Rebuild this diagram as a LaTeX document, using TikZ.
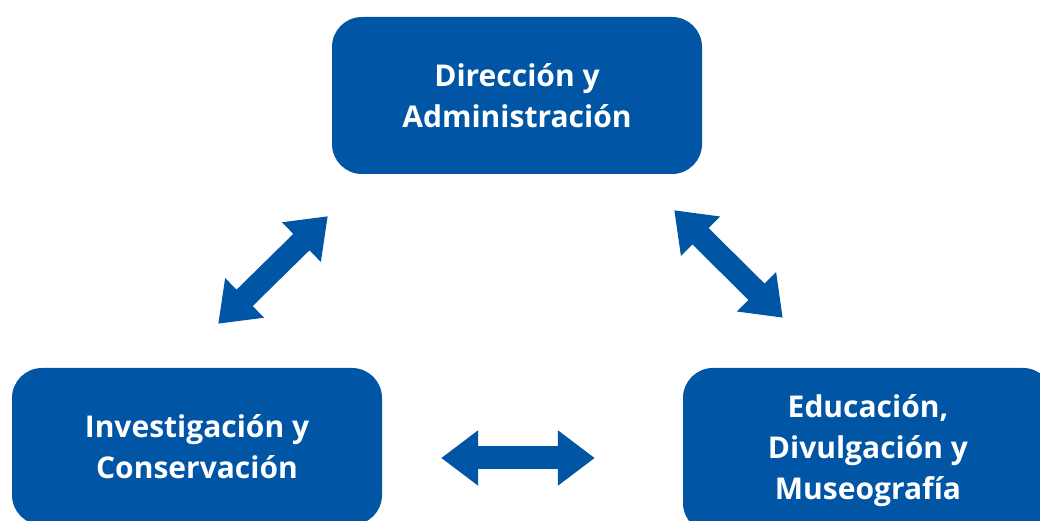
\documentclass[tikz,border=0pt]{standalone}
\usepackage{fontspec}
\setmainfont{Open Sans}
\usetikzlibrary{arrows.meta}
\definecolor{areablue}{RGB}{0,85,165}

\begin{document}
\begin{tikzpicture}[x=1pt,y=1pt,
		area/.style={fill=areablue, rounded corners=30pt, minimum width=370pt, minimum height=157pt,
			align=center, text=white, font=\fontsize{30}{41}\selectfont\bfseries},
		link/.style={draw=areablue, line width=23pt, {Triangle[length=37pt,width=53pt]}-{Triangle[length=37pt,width=53pt]}}]
		\useasboundingbox (0,0) rectangle (1040,521);
		
		\node[area] (dir) at (517,425.5) {Dirección y\\Administración};
		\node[area] (inv) at (197,74.5) {Investigación y\\Conservación};
		\node[area, minimum height=165pt] (edu) at (868,70.5) {Educación,\\Divulgación y\\Museografía};
		
		\draw[link] ([shift={(-164,44)}]inv.north east) -- ([shift={(-4,-42)}]dir.south west);
		\draw[link] ([shift={(-28,-36)}]dir.south east) -- ([shift={(100,50)}]edu.north west);
		\draw[link] ([shift={(59,-11.5)}]inv.east) -- ([shift={(-88,-7.5)}]edu.west);
	\end{tikzpicture}
\end{document}
